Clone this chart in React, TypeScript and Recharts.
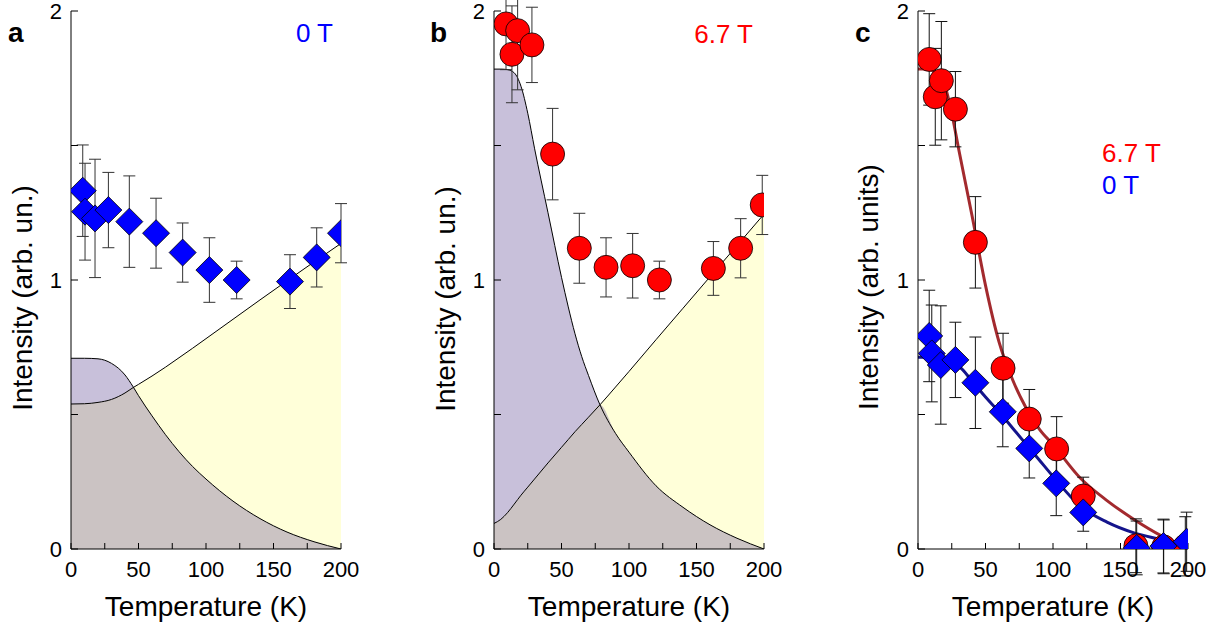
import React from "react";
import {
  ComposedChart,
  Area,
  Line,
  Scatter,
  ErrorBar,
  XAxis,
  YAxis,
} from "recharts";

const FONT = "'Liberation Sans', Arial, sans-serif";

// tick values shared by all panels
const xTicks = [0, 25, 50, 75, 100, 125, 150, 175, 200];
const yTicks = [0, 0.5, 1, 1.5, 2];

// panel a: 0 T data (diamonds)
const tempA = [8.7, 10.4, 17.8, 27.7, 43.2, 63, 82.7, 102.5, 122.7, 162.2, 182, 200];
const intA = [1.332, 1.254, 1.229, 1.26, 1.217, 1.174, 1.102, 1.037, 1.0, 0.994, 1.084, 1.174];
const errA = [0.17, 0.18, 0.22, 0.14, 0.17, 0.13, 0.11, 0.12, 0.07, 0.1, 0.11, 0.11];

// panel a: shaded curves
const curveTA = [0, 10, 20, 30, 40, 46, 50, 60, 70, 80, 90, 100, 120, 140, 160, 180, 200];
const lavA = [0.709, 0.709, 0.707, 0.69, 0.647, 0.603, 0.57, 0.495, 0.425, 0.362, 0.307, 0.26, 0.178, 0.113, 0.063, 0.027, 0];
const yelA = [0.539, 0.54, 0.545, 0.556, 0.58, 0.6, 0.612, 0.643, 0.676, 0.711, 0.746, 0.782, 0.854, 0.926, 0.997, 1.067, 1.136];

// panel b: 6.7 T data (circles)
const tempB = [8.9, 13.3, 17.5, 28.1, 43.4, 63.2, 83, 102.7, 122.5, 162.5, 182.7, 198.7];
const intB = [1.952, 1.839, 1.927, 1.874, 1.468, 1.118, 1.047, 1.053, 1.0, 1.043, 1.118, 1.279];
const errB = [0.17, 0.18, 0.22, 0.14, 0.17, 0.13, 0.11, 0.12, 0.07, 0.1, 0.11, 0.11];

// panel b: shaded curves
const curveTB = [0, 5, 10, 15, 20, 25, 30, 40, 50, 55, 60, 65, 70, 78.5, 90, 100, 120, 140, 160, 180, 200];
const lavB = [1.784, 1.784, 1.782, 1.77, 1.72, 1.62, 1.49, 1.25, 1.01, 0.9, 0.8, 0.715, 0.645, 0.536, 0.43, 0.36, 0.235, 0.155, 0.09, 0.04, 0];
const yelB = [0.095, 0.11, 0.135, 0.167, 0.2, 0.23, 0.26, 0.32, 0.378, 0.407, 0.436, 0.463, 0.49, 0.536, 0.602, 0.66, 0.778, 0.895, 1.012, 1.128, 1.245];

// panel c: difference data
const tempCRed = [8.3, 12.8, 17.3, 27.7, 42.5, 63, 82.4, 102.7, 122.4, 161.4, 182, 198];
const intCRed = [1.82, 1.681, 1.741, 1.635, 1.14, 0.672, 0.483, 0.372, 0.197, 0.012, 0.008, 0.01];
const errCRed = [0.17, 0.18, 0.22, 0.14, 0.17, 0.13, 0.11, 0.12, 0.07, 0.1, 0.1, 0.11];
const tempCBlue = [8.3, 10.2, 16.9, 27.7, 42.5, 62.8, 82.4, 102.4, 122.4, 162, 181.8, 199];
const intCBlue = [0.792, 0.727, 0.684, 0.703, 0.618, 0.51, 0.374, 0.244, 0.136, 0.004, 0.011, 0.027];
const errCBlue = [0.17, 0.18, 0.22, 0.14, 0.17, 0.13, 0.11, 0.12, 0.07, 0.1, 0.1, 0.11];

// panel c: fitted curves
const curveTC = [0, 5, 10, 15, 20, 25, 30, 40, 50, 60, 70, 80, 90, 100, 120, 140, 160, 180, 200];
const redFit = [1.784, 1.784, 1.78, 1.76, 1.72, 1.62, 1.49, 1.24, 0.98, 0.77, 0.63, 0.525, 0.445, 0.388, 0.265, 0.18, 0.11, 0.05, 0.005];
const blueFit = [0.713, 0.713, 0.712, 0.708, 0.7, 0.692, 0.68, 0.625, 0.565, 0.51, 0.45, 0.39, 0.33, 0.27, 0.16, 0.1, 0.06, 0.035, 0.01];

const shaded = (ts: number[], lav: number[], yel: number[]) =>
  ts.map((t, i) => ({ t, lav: lav[i], yel: yel[i], both: Math.min(lav[i], yel[i]) }));

const points = (ts: number[], ys: number[], es: number[]) =>
  ts.map((t, i) => ({ t, y: ys[i], err: es[i] }));

const Diamond = (props: any) => {
  const { cx, cy } = props;
  const r = 13.5;
  return (
    <polygon
      points={`${cx},${cy - r} ${cx + r},${cy} ${cx},${cy + r} ${cx - r},${cy}`}
      fill="#0000ff"
      stroke="#000"
      strokeWidth={0.8}
    />
  );
};

const Dot = (props: any) => {
  const { cx, cy } = props;
  return <circle cx={cx} cy={cy} r={12} fill="#ff0000" stroke="#000" strokeWidth={0.8} />;
};

const tickStyle = { fontSize: 22, fill: "#000", fontFamily: FONT };

// the frame: bottom/left axes with labels, top/right with inward ticks only
const frame = (leftWidth: number, rightColor: string) => [
  <XAxis
    key="xb"
    dataKey="t"
    type="number"
    domain={[0, 200]}
    ticks={xTicks}
    interval={0}
    allowDataOverflow
    height={83}
    tickSize={-6}
    tickMargin={18}
    tick={tickStyle}
    tickFormatter={(v: number) => (v % 50 === 0 ? String(v) : "")}
    stroke="#000"
  />,
  <XAxis
    key="xt"
    xAxisId="top"
    dataKey="t"
    type="number"
    orientation="top"
    domain={[0, 200]}
    ticks={xTicks}
    interval={0}
    allowDataOverflow
    height={0}
    tickSize={-6}
    tick={false}
    stroke="#333"
  />,
  <YAxis
    key="yl"
    type="number"
    domain={[0, 2]}
    ticks={yTicks}
    interval={0}
    allowDataOverflow
    width={leftWidth}
    tickSize={-7}
    tickMargin={16}
    tick={tickStyle}
    tickFormatter={(v: number) => (v % 1 === 0 ? String(v) : "")}
    stroke="#000"
  />,
  <YAxis
    key="yr"
    yAxisId="right"
    type="number"
    orientation="right"
    domain={[0, 2]}
    ticks={yTicks}
    interval={0}
    allowDataOverflow
    width={0}
    tickSize={-7}
    tick={false}
    stroke={rightColor}
  />,
];

const ShadedPanel = ({ data, pts, marker, leftWidth, rightMargin, width }: any) => (
  <ComposedChart
    width={width}
    height={632}
    data={data}
    margin={{ top: 11, right: rightMargin, left: 0, bottom: 0 }}
  >
    {frame(leftWidth, "#333")}
    <Area type="monotone" dataKey="lav" fill="#c8c0da" fillOpacity={1} stroke="none" isAnimationActive={false} />
    <Area type="monotone" dataKey="yel" fill="#ffffd9" fillOpacity={1} stroke="none" isAnimationActive={false} />
    <Area type="monotone" dataKey="both" fill="#cbc3c3" fillOpacity={1} stroke="none" isAnimationActive={false} />
    <Line type="monotone" dataKey="lav" stroke="#000" strokeWidth={1} dot={false} isAnimationActive={false} />
    <Line type="monotone" dataKey="yel" stroke="#000" strokeWidth={1} dot={false} isAnimationActive={false} />
    <Scatter data={pts} dataKey="y" shape={marker} isAnimationActive={false}>
      <ErrorBar dataKey="err" direction="y" width={6} stroke="#333" strokeWidth={1} />
    </Scatter>
  </ComposedChart>
);

const App = () => {
  const fitData = curveTC.map((t, i) => ({ t, red: redFit[i], blue: blueFit[i] }));
  return (
    <div
      style={{
        position: "absolute",
        left: 0,
        top: 0,
        width: 1222,
        height: 632,
        background: "#fff",
        fontFamily: FONT,
        overflow: "hidden",
      }}
    >
      <div style={{ position: "absolute", left: 0, top: 0 }}>
        <ShadedPanel
          width={390}
          data={shaded(curveTA, lavA, yelA)}
          pts={points(tempA, intA, errA)}
          marker={Diamond}
          leftWidth={71}
          rightMargin={49}
        />
      </div>
      <div style={{ position: "absolute", left: 420, top: 0 }}>
        <ShadedPanel
          width={400}
          data={shaded(curveTB, lavB, yelB)}
          pts={points(tempB, intB, errB)}
          marker={Dot}
          leftWidth={74}
          rightMargin={56}
        />
      </div>
      <div style={{ position: "absolute", left: 850, top: 0 }}>
        <ComposedChart
          width={372}
          height={632}
          data={fitData}
          margin={{ top: 11, right: 34, left: 0, bottom: 0 }}
        >
          {frame(68, "#888")}
          <Line type="monotone" dataKey="red" stroke="#a32a2e" strokeWidth={3} dot={false} isAnimationActive={false} />
          <Line type="monotone" dataKey="blue" stroke="#14148c" strokeWidth={3} dot={false} isAnimationActive={false} />
          <Scatter data={points(tempCRed, intCRed, errCRed)} dataKey="y" shape={Dot} isAnimationActive={false}>
            <ErrorBar dataKey="err" direction="y" width={6} stroke="#111" strokeWidth={1} />
          </Scatter>
          <Scatter data={points(tempCBlue, intCBlue, errCBlue)} dataKey="y" shape={Diamond} isAnimationActive={false}>
            <ErrorBar dataKey="err" direction="y" width={6} stroke="#111" strokeWidth={1} />
          </Scatter>
        </ComposedChart>
      </div>
      <svg
        width={1222}
        height={632}
        style={{ position: "absolute", left: 0, top: 0, pointerEvents: "none" }}
        fontFamily={FONT}
      >
        <text x={8} y={42} fontSize={28} fontWeight="bold">a</text>
        <text x={430} y={42} fontSize={28} fontWeight="bold">b</text>
        <text x={855} y={42} fontSize={28} fontWeight="bold">c</text>
        <text x={333} y={42} fontSize={26} fill="#0000ff" textAnchor="end">0 T</text>
        <text x={753} y={43} fontSize={26} fill="#ff0000" textAnchor="end">6.7 T</text>
        <text x={1102} y={162} fontSize={26} fill="#ff0000">6.7 T</text>
        <text x={1102} y={194} fontSize={26} fill="#0000ff">0 T</text>
        <text x={206} y={616} fontSize={28} textAnchor="middle">Temperature (K)</text>
        <text x={629} y={616} fontSize={28} textAnchor="middle">Temperature (K)</text>
        <text x={1053} y={616} fontSize={28} textAnchor="middle">Temperature (K)</text>
        <text transform="translate(32,298) rotate(-90)" fontSize={28} textAnchor="middle">
          Intensity (arb. un.)
        </text>
        <text transform="translate(455,299) rotate(-90)" fontSize={28} textAnchor="middle">
          Intensity (arb. un.)
        </text>
        <text transform="translate(878,287) rotate(-90)" fontSize={28} textAnchor="middle">
          Intensity (arb. units)
        </text>
      </svg>
    </div>
  );
};

export default App;
